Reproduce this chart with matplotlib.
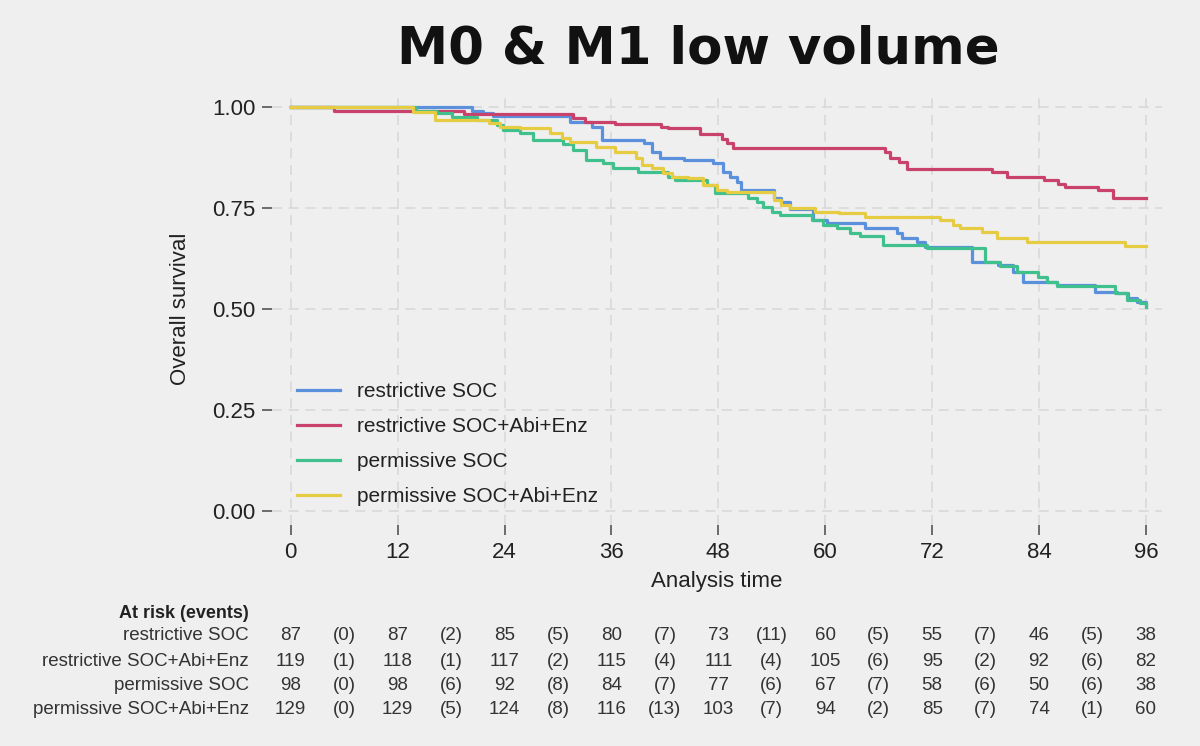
import matplotlib
matplotlib.use("Agg")
import matplotlib.pyplot as plt
from matplotlib.transforms import blended_transform_factory

# ---------------- data ----------------
series_names = ["restrictive SOC", "restrictive SOC+Abi+Enz",
                "permissive SOC", "permissive SOC+Abi+Enz"]

restr_soc_t = [0, 20.3, 21.6, 22.7, 31.3, 33.8, 34.9, 39.7, 40.5, 41.4, 44.2, 47.4,
               48.5, 49.3, 50.1, 50.6, 54.2, 55.0, 56.0, 58.6, 60.2, 64.5, 68.0, 68.6,
               70.3, 71.2, 76.5, 79.4, 81.1, 82.2, 86.0, 90.3, 92.7, 94.0, 95.0, 96]
restr_soc_s = [1.0, 0.99, 0.985, 0.977, 0.963, 0.95, 0.918, 0.911, 0.889, 0.874, 0.869, 0.861,
               0.839, 0.827, 0.814, 0.795, 0.775, 0.765, 0.748, 0.72, 0.713, 0.70, 0.688, 0.675,
               0.666, 0.653, 0.616, 0.609, 0.592, 0.567, 0.559, 0.542, 0.539, 0.527, 0.517, 0.51]

restr_abi_t = [0, 4.9, 19.5, 31.7, 33.0, 36.4, 41.6, 42.3, 45.9, 48.4, 49.0, 49.6,
               66.7, 67.3, 68.3, 69.2, 78.7, 80.4, 84.5, 86.1, 86.9, 90.6, 92.3, 96]
restr_abi_s = [1.0, 0.99, 0.983, 0.973, 0.964, 0.957, 0.952, 0.948, 0.933, 0.92, 0.91, 0.898,
               0.889, 0.875, 0.865, 0.846, 0.839, 0.827, 0.819, 0.809, 0.802, 0.795, 0.775, 0.775]

perm_soc_t = [0, 14.1, 16.4, 18.1, 20.9, 23.1, 23.8, 25.7, 27.2, 30.6, 31.7, 33.2, 35.0,
              36.2, 39.0, 42.4, 43.1, 46.7, 47.6, 51.3, 52.3, 53.0, 54.0, 54.9, 58.5, 59.8,
              61.3, 62.8, 63.9, 66.5, 71.4, 77.9, 79.6, 81.5, 83.9, 84.9, 86.0, 92.5, 93.9,
              95.3, 96]
perm_soc_s = [1.0, 0.99, 0.985, 0.975, 0.968, 0.955, 0.943, 0.936, 0.918, 0.908, 0.893, 0.869,
              0.861, 0.849, 0.839, 0.827, 0.819, 0.807, 0.787, 0.775, 0.765, 0.753, 0.74, 0.733,
              0.72, 0.708, 0.70, 0.688, 0.68, 0.658, 0.651, 0.616, 0.607, 0.592, 0.579, 0.567,
              0.557, 0.539, 0.522, 0.515, 0.505]

perm_abi_t = [0, 13.7, 16.2, 22.3, 23.5, 25.7, 29.1, 30.4, 31.3, 34.3, 36.4, 38.8, 39.4,
              40.5, 41.8, 42.8, 44.6, 46.3, 47.8, 49.0, 54.2, 55.0, 56.0, 58.8, 61.6, 64.5,
              72.9, 74.3, 75.1, 77.6, 79.3, 82.6, 93.6, 96]
perm_abi_s = [1.0, 0.988, 0.968, 0.96, 0.95, 0.948, 0.936, 0.923, 0.913, 0.901, 0.889, 0.874,
              0.856, 0.849, 0.837, 0.827, 0.824, 0.807, 0.795, 0.79, 0.77, 0.757, 0.75, 0.74,
              0.737, 0.728, 0.72, 0.708, 0.70, 0.69, 0.676, 0.666, 0.656, 0.656]

colors = ["#5a90dc", "#c8426c", "#40c08c", "#e6cc42"]

risk_times = [0, 12, 24, 36, 48, 60, 72, 84, 96]
at_risk = [
    [87, 87, 85, 80, 73, 60, 55, 46, 38],
    [119, 118, 117, 115, 111, 105, 95, 92, 82],
    [98, 98, 92, 84, 77, 67, 58, 50, 38],
    [129, 129, 124, 116, 103, 94, 85, 74, 60],
]
events = [
    [0, 2, 5, 7, 11, 5, 7, 5],
    [1, 1, 2, 4, 4, 6, 2, 6],
    [0, 6, 8, 7, 6, 7, 6, 6],
    [0, 5, 8, 13, 7, 2, 7, 1],
]

x_ticks = [0, 12, 24, 36, 48, 60, 72, 84, 96]
y_ticks = [0.0, 0.25, 0.5, 0.75, 1.0]

# ---------------- figure ----------------
BG = "#efefef"
plt.rcParams["font.family"] = ["Liberation Sans", "DejaVu Sans"]
fig = plt.figure(figsize=(12, 7.46), dpi=100, facecolor=BG)
ax = fig.add_axes([272 / 1200, 1 - 525 / 746, (1162 - 272) / 1200, (525 - 93) / 746])
ax.set_facecolor(BG)

xs = [restr_soc_t, restr_abi_t, perm_soc_t, perm_abi_t]
ys = [restr_soc_s, restr_abi_s, perm_soc_s, perm_abi_s]
for t, s, c, n in zip(xs, ys, colors, series_names):
    ax.step(t, s, where="post", color=c, lw=2.3, label=n)

ax.set_xlim(-2.1, 97.8)
ax.set_ylim(-0.035, 1.035)
ax.set_xticks(x_ticks)
ax.set_yticks(y_ticks)
ax.set_yticklabels([f"{v:.2f}" for v in y_ticks])
ax.grid(True, color="#d9d9d9", lw=1.2, linestyle=(0, (6, 4)))
ax.set_axisbelow(True)
for sp in ax.spines.values():
    sp.set_visible(False)
ax.tick_params(axis="both", length=7, width=1.2, color="#555555", labelsize=16,
               labelcolor="#222222", pad=5)

ax.set_xlabel("Analysis time", fontsize=16, color="#222222", labelpad=6)
ax.set_ylabel("Overall survival", fontsize=16, color="#222222", labelpad=15)

leg = ax.legend(loc="lower left", bbox_to_anchor=(0.007, 0.001), frameon=False,
                fontsize=15, handlelength=2.07, handletextpad=0.82, labelspacing=0.76,
                labelcolor="#222222")

fig.text(698 / 1200, 1 - 50 / 746, "M0 & M1 low volume", ha="center", va="center",
         fontsize=37, fontweight="bold", family="DejaVu Sans", color="#111111")

# ---------------- risk table ----------------
tr = blended_transform_factory(ax.transData, fig.transFigure)
row_y = [635, 661, 685, 709]
fig.text(249 / 1200, 1 - 614 / 746, "At risk (events)", ha="right", va="center",
         fontsize=13, fontweight="bold", color="#222222")
for i, name in enumerate(series_names):
    yy = 1 - row_y[i] / 746
    fig.text(249 / 1200, yy, name, ha="right", va="center", fontsize=13.5, color="#333333")
    for j, tt in enumerate(risk_times):
        fig.text(tt, yy, str(at_risk[i][j]), transform=tr, ha="center", va="center",
                 fontsize=13.5, color="#333333")
    for j in range(len(events[i])):
        mid = (risk_times[j] + risk_times[j + 1]) / 2
        fig.text(mid, yy, f"({events[i][j]})", transform=tr, ha="center", va="center",
                 fontsize=13.5, color="#333333")

fig.savefig("out.png", dpi=100, facecolor=BG)
